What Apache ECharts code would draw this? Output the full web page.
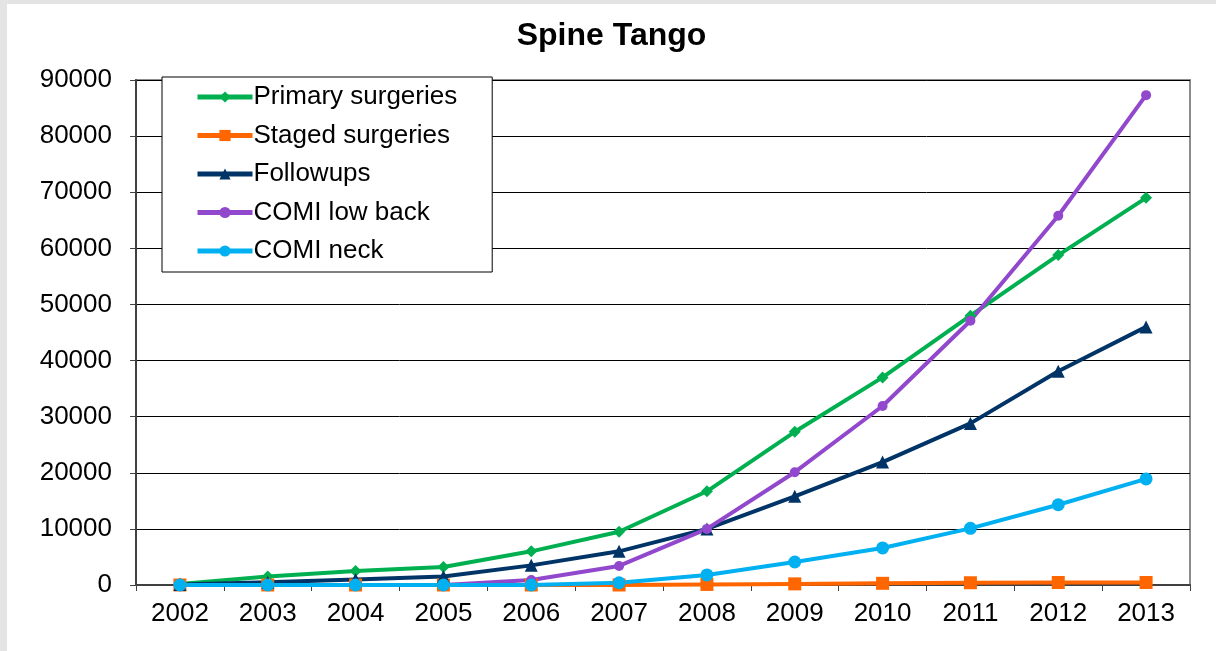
<!DOCTYPE html>
<html>
<head>
<meta charset="utf-8">
<script src="https://cdn.jsdelivr.net/npm/echarts@6/dist/echarts.min.js"></script>
<style>
  html, body { margin: 0; padding: 0; background: #e4e4e4; }
  #grafico { position: absolute; left: 7px; top: 4px; width: 1209px; height: 647px; background: #fff; }
</style>
</head>
<body>
<div id="grafico"></div>
<script>
// Datos del gráfico
const years = ['2002', '2003', '2004', '2005', '2006', '2007', '2008', '2009', '2010', '2011', '2012', '2013'];
const primarySurgeries = [200, 1500, 2500, 3200, 6000, 9500, 16700, 27300, 37000, 48000, 58800, 69000];
const stagedSurgeries = [0, 0, 0, 0, 0, 0, 100, 200, 300, 400, 450, 450];
const followups = [100, 500, 1000, 1500, 3500, 6000, 10000, 15800, 21900, 28800, 38100, 46000];
const comiLowBack = [0, 0, 0, 0, 900, 3400, 10000, 20100, 31900, 47100, 65800, 87300];
const comiNeck = [0, 0, 0, 0, 0, 400, 1800, 4100, 6600, 10100, 14300, 18900];

const chartDom = document.getElementById('grafico');
const myChart = echarts.init(chartDom);

const FONT = 'Liberation Sans, Arial, sans-serif';

function linea(name, data, color, symbol, size) {
    return {
        name: name,
        type: 'line',
        data: data,
        symbol: symbol,
        symbolSize: size,
        lineStyle: { color: color, width: 4 },
        itemStyle: { color: color },
        animation: false
    };
}

const option = {
    title: {
        text: 'Spine Tango',
        left: 'center',
        top: 11,
        textStyle: { fontFamily: FONT, fontSize: 32, fontWeight: 'bold', color: '#000' }
    },
    legend: {
        orient: 'vertical',
        left: 155,
        top: 73,
        padding: [7, 35, 8, 33],
        itemWidth: 55,
        itemHeight: 14,
        itemGap: 12.5,
        backgroundColor: '#fff',
        borderColor: '#000',
        borderWidth: 1,
        borderRadius: 0,
        lineStyle: { width: 5 },
        textStyle: { fontFamily: FONT, fontSize: 26, color: '#000', padding: [0, 0, 0, -4] },
        data: ['Primary surgeries', 'Staged surgeries', 'Followups', 'COMI low back', 'COMI neck']
    },
    grid: {
        left: 129,
        right: 26,
        top: 76,
        bottom: 66,
        show: true,
        borderColor: '#8c8c8c',
        borderWidth: 2,
        backgroundColor: 'transparent'
    },
    xAxis: {
        type: 'category',
        data: years,
        boundaryGap: true,
        axisLine: { lineStyle: { color: '#404040', width: 2 } },
        axisTick: { show: true, length: 6, lineStyle: { color: '#404040', width: 1 } },
        axisLabel: { fontFamily: FONT, fontSize: 26, color: '#000', margin: 16 }
    },
    yAxis: {
        type: 'value',
        min: 0,
        max: 90000,
        interval: 10000,
        axisLine: { show: true, lineStyle: { color: '#404040', width: 2 } },
        axisTick: { show: true, length: 6, lineStyle: { color: '#404040', width: 1 } },
        axisLabel: { fontFamily: FONT, fontSize: 26, color: '#000', margin: 24, formatter: (v) => String(v) },
        splitLine: { lineStyle: { color: '#000', width: 1 } }
    },
    series: [
        linea('Primary surgeries', primarySurgeries, '#00b050', 'diamond', 12),
        linea('Staged surgeries', stagedSurgeries, '#ff6600', 'rect', 13),
        linea('Followups', followups, '#003366', 'triangle', 13),
        linea('COMI low back', comiLowBack, '#9148cc', 'circle', 10),
        linea('COMI neck', comiNeck, '#00b0f0', 'circle', 13)
    ]
};

option && myChart.setOption(option);

window.addEventListener('resize', () => {
    myChart.resize();
});
</script>
</body>
</html>
